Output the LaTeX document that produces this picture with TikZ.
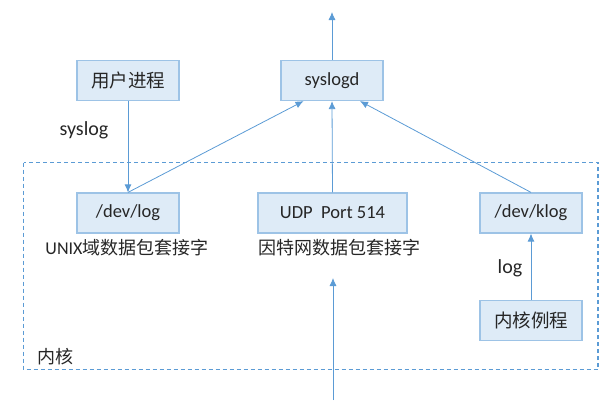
\documentclass[tikz,border=0pt]{standalone}
\usepackage{fontspec}
\setmainfont{Carlito}
\newfontfamily\cjk{Noto Sans CJK SC}
\usetikzlibrary{arrows.meta,calc}
\definecolor{boxfill}{HTML}{DEEBF7}
\definecolor{boxline}{HTML}{9DC3E6}
\definecolor{arrowc}{HTML}{5B9BD5}
\definecolor{txt}{HTML}{262626}
\tikzset{
  procbox/.style={draw=boxline, fill=boxfill, line width=1.2pt, minimum width=102pt, minimum height=40pt, inner sep=0pt, text=txt, font=\fontsize{18.5}{21}\selectfont},
  lbl/.style={inner sep=0pt, text=txt, font=\fontsize{18}{21}\selectfont},
  biglbl/.style={inner sep=0pt, text=txt, font=\fontsize{20}{23}\selectfont},
  conn/.style={draw=arrowc, line width=0.8pt, -{Latex[length=8pt,width=7pt]}},
  kernel/.style={draw=arrowc, line width=1.3pt, dash pattern=on 4pt off 3pt}
}
\begin{document}
\begin{tikzpicture}[x=1pt,y=-1pt]
\useasboundingbox (0,0) rectangle (600,400);
\draw[kernel] (23.5,162.5) rectangle (598,369.5);
\node[procbox] (user) at (128,80.5) {\cjk 用户进程};
\node[procbox] (syslogd) at (332,80.5) {syslogd};
\node[procbox] (devlog) at (128,213) {/dev/log};
\node[procbox, minimum width=149pt] (udp) at (332.5,213) {UDP\ \ Port 514};
\node[procbox] (klog) at (531,213) {/dev/klog};
\node[procbox] (kroutine) at (531,320.5) {\cjk 内核例程};
\node[biglbl] (syslogl) at (84,130) {syslog};
\node[biglbl] (logl) at (510,268) {log};
\node[lbl] (unixl) at (127,248) {UNIX{\cjk 域数据包套接字}};
\node[lbl] (inetl) at (339,248) {\cjk 因特网数据包套接字};
\node[lbl] (kernl) at (55,357) {\cjk 内核};
\coordinate (topend) at (332,12);
\coordinate (netin) at (333,400);
\coordinate (netend) at (333,278);
\draw[conn] (syslogd.north) -- (topend);
\draw[conn] (user.south) -- (devlog.north);
\draw[conn] (devlog.north) -- ($(syslogd.south)+(-28.5,0)$);
\draw[conn] (udp.north) -- (syslogd.south);
\draw[conn] (klog.north) -- ($(syslogd.south)+(28,0)$);
\draw[conn] (kroutine.north) -- (klog.south);
\draw[conn] (netin) -- (netend);
\end{tikzpicture}
\end{document}
